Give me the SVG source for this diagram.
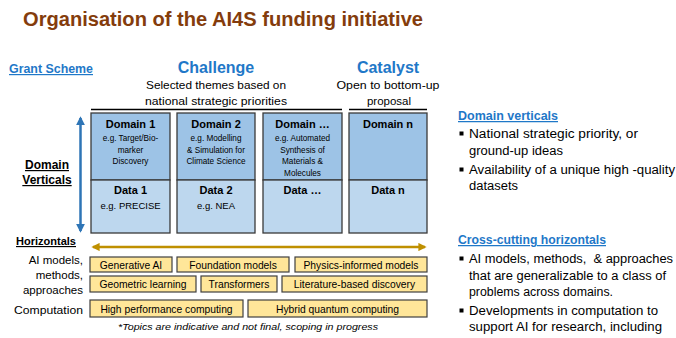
<svg xmlns="http://www.w3.org/2000/svg" width="676" height="338" viewBox="0 0 676 338">
<style>
text{font-family:"Liberation Sans",Arial,sans-serif;fill:#000}
.title{font-size:20px;font-weight:bold;fill:#843c0c}
.blue{fill:#1f78c8;font-weight:bold}
.hdr{font-size:16px}
.sub{font-size:11.5px}
.lab{font-size:11.5px}
.b{font-weight:bold}
.u{text-decoration:underline}
.dom{fill:#9dc3e6;stroke:#3a3a3a;stroke-width:1.3}
.dat{fill:#bdd7ee;stroke:#3a3a3a;stroke-width:1.3}
.bt{font-size:11px;font-weight:bold;text-anchor:middle}
.st{font-size:8.2px;text-anchor:middle}
.dt{font-size:9.5px;text-anchor:middle}
.y{fill:#ffe699;stroke:#404040;stroke-width:1.2}
.yt{font-size:10.3px;text-anchor:middle}
.rt{font-size:12.5px}
.mid{text-anchor:middle}
.end{text-anchor:end}
</style>
<defs>
<marker id="ab" viewBox="0 0 10 10" refX="8" refY="5" markerWidth="3.5" markerHeight="3.5" orient="auto-start-reverse"><path d="M0,0 L10,5 L0,10 z" fill="#2e75b6"/></marker>
<marker id="ag" viewBox="0 0 10 10" refX="8" refY="5" markerWidth="3.3" markerHeight="3.3" orient="auto-start-reverse"><path d="M0,0 L10,5 L0,10 z" fill="#bf9000"/></marker>
</defs>

<text class="title" x="23" y="26" textLength="400" lengthAdjust="spacingAndGlyphs">Organisation of the AI4S funding initiative</text>

<g id="left-labels">
<text class="blue u" x="9" y="73" font-size="12" textLength="84" lengthAdjust="spacingAndGlyphs">Grant Scheme</text>
<text class="b u mid" x="47" y="169" font-size="12">Domain</text>
<text class="b u mid" x="47" y="184" font-size="12">Verticals</text>
<text class="b u" x="16" y="245" font-size="11.5" textLength="60" lengthAdjust="spacingAndGlyphs">Horizontals</text>
<text class="lab end" x="83" y="264">AI models,</text>
<text class="lab end" x="83" y="279">methods,</text>
<text class="lab end" x="83" y="294">approaches</text>
<text class="lab end" x="83" y="314" textLength="69" lengthAdjust="spacingAndGlyphs">Computation</text>
</g>

<g id="challenge-header">
<text class="blue hdr mid" x="216" y="73">Challenge</text>
<text class="sub mid" x="216" y="89" textLength="140" lengthAdjust="spacingAndGlyphs">Selected themes based on</text>
<text class="sub mid" x="216" y="105" textLength="142" lengthAdjust="spacingAndGlyphs">national strategic priorities</text>
<line x1="91" y1="109.5" x2="342" y2="109.5" stroke="#000" stroke-width="1.5"/>
</g>
<g id="catalyst-header">
<text class="blue hdr mid" x="388" y="73">Catalyst</text>
<text class="sub mid" x="388" y="89" textLength="103" lengthAdjust="spacingAndGlyphs">Open to bottom-up</text>
<text class="sub mid" x="389" y="105">proposal</text>
<line x1="349" y1="109.5" x2="427" y2="109.5" stroke="#000" stroke-width="1.5"/>
</g>

<g id="domain1">
<rect class="dom" x="91" y="113" width="79" height="67"/>
<rect class="dat" x="91" y="180" width="79" height="53"/>
<text class="bt" x="130.5" y="128">Domain 1</text>
<text class="st" x="130.5" y="141">e.g. Target/Bio-</text>
<text class="st" x="130.5" y="152.5">marker</text>
<text class="st" x="130.5" y="164">Discovery</text>
<text class="bt" x="130.5" y="194">Data 1</text>
<text class="dt" x="130.5" y="209">e.g. PRECISE</text>
</g>
<g id="domain2">
<rect class="dom" x="177" y="113" width="78" height="67"/>
<rect class="dat" x="177" y="180" width="78" height="53"/>
<text class="bt" x="216" y="128">Domain 2</text>
<text class="st" x="216" y="141">e.g. Modelling</text>
<text class="st" x="216" y="152.5">&amp; Simulation for</text>
<text class="st" x="216" y="164">Climate Science</text>
<text class="bt" x="216" y="194">Data 2</text>
<text class="dt" x="216" y="209">e.g. NEA</text>
</g>
<g id="domain-etc">
<rect class="dom" x="263" y="113" width="79" height="67"/>
<rect class="dat" x="263" y="180" width="79" height="53"/>
<text class="bt" x="302.5" y="128">Domain …</text>
<text class="st" x="302.5" y="141">e.g. Automated</text>
<text class="st" x="302.5" y="152.5">Synthesis of</text>
<text class="st" x="302.5" y="164">Materials &amp;</text>
<text class="st" x="302.5" y="175.5">Molecules</text>
<text class="bt" x="302.5" y="194">Data …</text>
</g>
<g id="domain-n">
<rect class="dom" x="349" y="113" width="78" height="67"/>
<rect class="dat" x="349" y="180" width="78" height="53"/>
<text class="bt" x="388" y="128">Domain n</text>
<text class="bt" x="388" y="194">Data n</text>
</g>

<g id="connectors">
<line x1="80.5" y1="118" x2="80.5" y2="231" stroke="#2e75b6" stroke-width="2.5" marker-start="url(#ab)" marker-end="url(#ab)"/>
<line x1="93" y1="247" x2="425" y2="247" stroke="#bf9000" stroke-width="2.5" marker-start="url(#ag)" marker-end="url(#ag)"/>
</g>

<g id="generative-ai"><rect class="y" x="90" y="257" width="82" height="15"/><text class="yt" x="131" y="268.5">Generative AI</text></g>
<g id="foundation-models"><rect class="y" x="177" y="257" width="112" height="15"/><text class="yt" x="233" y="268.5">Foundation models</text></g>
<g id="physics-informed"><rect class="y" x="295" y="257" width="132" height="15"/><text class="yt" x="361" y="268.5">Physics-informed models</text></g>
<g id="geometric-learning"><rect class="y" x="90" y="276" width="106" height="16"/><text class="yt" x="143" y="288">Geometric learning</text></g>
<g id="transformers"><rect class="y" x="201" y="276" width="76" height="16"/><text class="yt" x="239" y="288">Transformers</text></g>
<g id="literature-based"><rect class="y" x="282" y="276" width="145" height="16"/><text class="yt" x="354.5" y="288">Literature-based discovery</text></g>
<g id="hpc"><rect class="y" x="90" y="300" width="153" height="17"/><text class="yt" x="166.5" y="312.5">High performance computing</text></g>
<g id="hybrid-quantum"><rect class="y" x="248" y="300" width="179" height="17"/><text class="yt" x="337.5" y="312.5">Hybrid quantum computing</text></g>

<text x="118" y="330" font-size="9.5" font-style="italic" fill="#222" textLength="260" lengthAdjust="spacingAndGlyphs">*Topics are indicative and not final, scoping in progress</text>

<g id="domain-verticals-text">
<text class="blue u" x="458" y="120" font-size="12.5" textLength="100" lengthAdjust="spacingAndGlyphs">Domain verticals</text>
<rect x="459.5" y="131.5" width="4" height="4" fill="#000"/>
<text class="rt" x="469" y="138" textLength="169" lengthAdjust="spacingAndGlyphs">National strategic priority, or</text>
<text class="rt" x="469" y="155" textLength="94" lengthAdjust="spacingAndGlyphs">ground-up ideas</text>
<rect x="459.5" y="167.5" width="4" height="4" fill="#000"/>
<text class="rt" x="469" y="174" textLength="206" lengthAdjust="spacingAndGlyphs">Availability of a unique high -quality</text>
<text class="rt" x="469" y="190" textLength="49" lengthAdjust="spacingAndGlyphs">datasets</text>
</g>
<g id="cross-cutting-text">
<text class="blue u" x="458" y="244" font-size="12.5" textLength="148" lengthAdjust="spacingAndGlyphs">Cross-cutting horizontals</text>
<rect x="459.5" y="256.5" width="4" height="4" fill="#000"/>
<text class="rt" x="469" y="263" textLength="204" lengthAdjust="spacingAndGlyphs" xml:space="preserve">AI models, methods,  &amp; approaches</text>
<text class="rt" x="469" y="280" textLength="197" lengthAdjust="spacingAndGlyphs">that are generalizable to a class of</text>
<text class="rt" x="469" y="296" textLength="144" lengthAdjust="spacingAndGlyphs">problems across domains.</text>
<rect x="459.5" y="308.5" width="4" height="4" fill="#000"/>
<text class="rt" x="469" y="315" textLength="189" lengthAdjust="spacingAndGlyphs">Developments in computation to</text>
<text class="rt" x="469" y="331" textLength="193" lengthAdjust="spacingAndGlyphs">support AI for research, including</text>
</g>
</svg>
